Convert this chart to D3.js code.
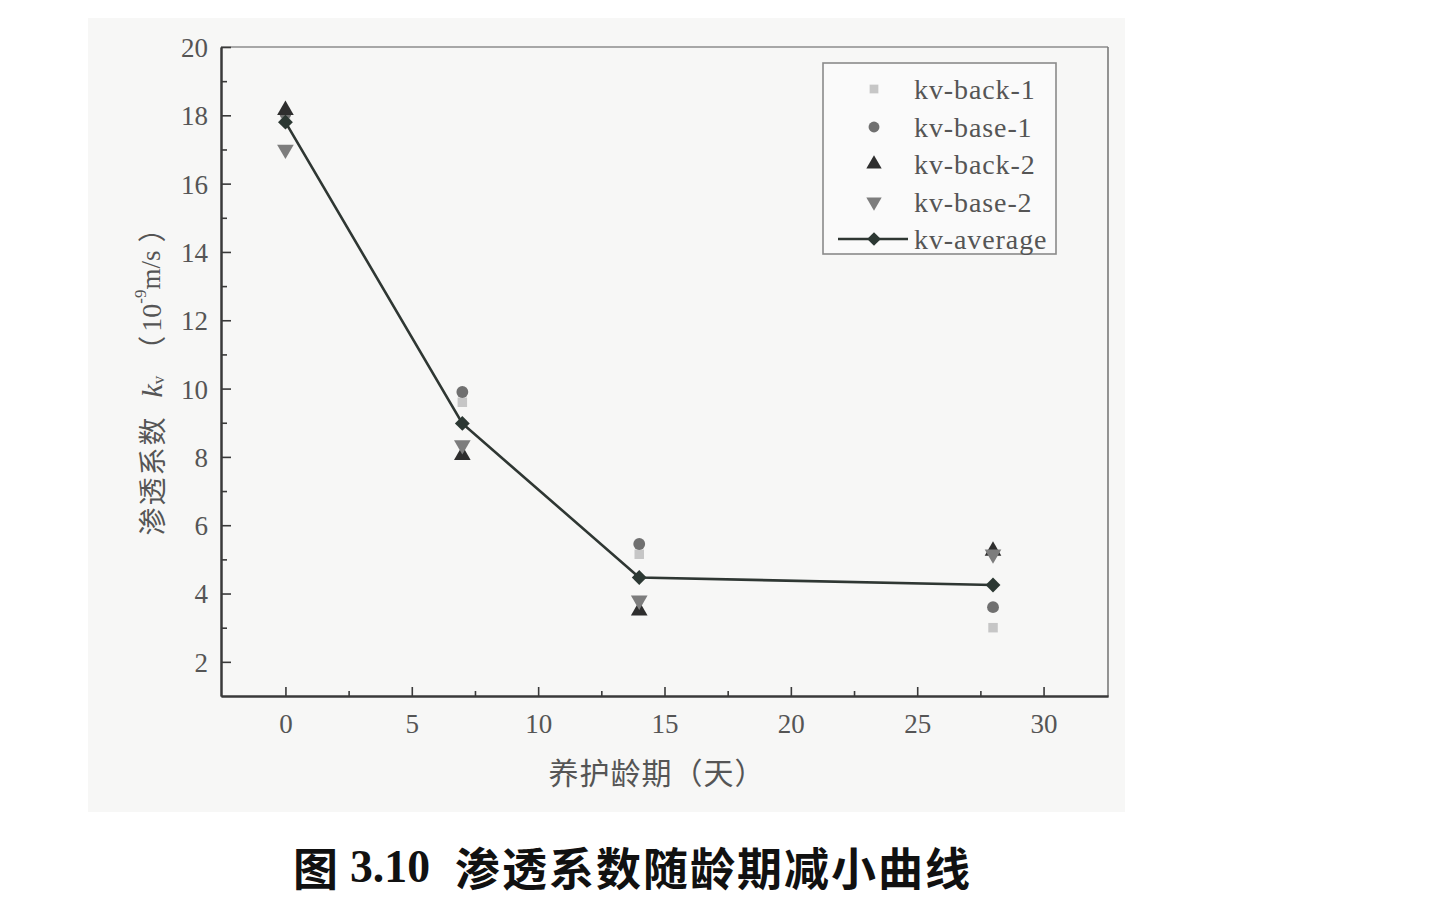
<!DOCTYPE html>
<html><head><meta charset="utf-8">
<script src="https://cdn.jsdelivr.net/npm/d3@7"></script>
<style>
html,body{margin:0;padding:0;background:#fff;}
svg{display:block;}
</style></head>
<body>
<svg id="chart" width="1443" height="909"></svg>
<script>
// ---- data ----
const ages = [0, 7, 14, 28];
const kvBack1 = [18.0, 9.6, 5.15, 3.0];
const kvBase1 = [18.05, 9.9, 5.45, 3.6];
const kvBack2 = [18.15, 8.05, 3.5, 5.25];
const kvBase2 = [17.0, 8.35, 3.8, 5.15];
const kvAverage = [17.8, 8.98, 4.47, 4.25];
const seriesNames = ["kv-back-1", "kv-base-1", "kv-back-2", "kv-base-2", "kv-average"];
const xTicks = [0, 5, 10, 15, 20, 25, 30];
const xMinorTicks = [2.5, 7.5, 12.5, 17.5, 22.5, 27.5];
const yTicks = [2, 4, 6, 8, 10, 12, 14, 16, 18, 20];
const yMinorTicks = [3, 5, 7, 9, 11, 13, 15, 17, 19];
const xTitle = "养护龄期（天）";
const captionLabel = "图";
const captionNumber = "3.10";
const captionText = "渗透系数随龄期减小曲线";

const svg = d3.select("#chart");
const m = {left: 221, top: 47, right: 1108, bottom: 696};

// scanned page background
svg.append("rect").attr("x", 88).attr("y", 18).attr("width", 1037).attr("height", 794).attr("fill", "#f7f7f6");

const x = d3.scaleLinear().domain([-2.55, 32.55]).range([m.left, m.right]);
const y = d3.scaleLinear().domain([1, 20]).range([m.bottom, m.top]);

const axisColor = "#3a3a3a";
const serif = "'Liberation Serif', 'DejaVu Serif', serif";
const cjk = "'Noto Sans CJK SC', sans-serif";

// frame (top & right lighter)
svg.append("line").attr("x1", m.left).attr("x2", m.right).attr("y1", m.top).attr("y2", m.top)
  .attr("stroke", "#8c8c8c").attr("stroke-width", 1.6);
svg.append("line").attr("x1", m.right).attr("x2", m.right).attr("y1", m.top).attr("y2", m.bottom)
  .attr("stroke", "#7a7a7a").attr("stroke-width", 1.6);

// axes
const gx = svg.append("g").attr("transform", `translate(0,${m.bottom})`)
  .call(d3.axisBottom(x).tickValues(xTicks).tickSizeInner(-9).tickSizeOuter(0).tickPadding(18).tickFormat(d3.format("d")));
const gxm = svg.append("g").attr("transform", `translate(0,${m.bottom})`)
  .call(d3.axisBottom(x).tickValues(xMinorTicks).tickSizeInner(-5).tickSizeOuter(0).tickFormat(""));
const gy = svg.append("g").attr("transform", `translate(${m.left},0)`)
  .call(d3.axisLeft(y).tickValues(yTicks).tickSizeInner(-10).tickSizeOuter(0).tickPadding(13).tickFormat(d3.format("d")));
const gym = svg.append("g").attr("transform", `translate(${m.left},0)`)
  .call(d3.axisLeft(y).tickValues(yMinorTicks).tickSizeInner(-6).tickSizeOuter(0).tickFormat(""));

[gx, gxm, gy, gym].forEach(g => {
  g.select(".domain").attr("stroke", axisColor).attr("stroke-width", 2);
  g.selectAll(".tick line").attr("stroke", axisColor).attr("stroke-width", 1.6);
  g.selectAll(".tick text").attr("fill", "#555").attr("font-family", serif).attr("font-size", 27);
});
gx.selectAll(".tick text").attr("dy", "0.71em");
gy.selectAll(".tick text").attr("dy", "0.35em");

// axis titles
svg.append("text").attr("x", 657).attr("y", 771).attr("text-anchor", "middle").attr("dominant-baseline", "central")
  .attr("font-family", cjk).attr("font-size", 30).attr("fill", "#555")
  .attr("letter-spacing", 1).text(xTitle);

const yt = svg.append("text").attr("transform", "translate(151,375) rotate(-90)")
  .attr("text-anchor", "middle").attr("dominant-baseline", "central")
  .attr("fill", "#555").attr("font-size", 28);
yt.append("tspan").attr("font-family", cjk).attr("letter-spacing", 2).text("渗透系数");
yt.append("tspan").attr("font-family", serif).attr("font-style", "italic").attr("font-size", 30).attr("dx", 18).text("k");
yt.append("tspan").attr("font-family", serif).attr("font-size", 17).attr("dy", 7).text("v");
yt.append("tspan").attr("font-family", cjk).attr("dy", -7).attr("dx", 12).text("（");
yt.append("tspan").attr("font-family", serif).attr("font-size", 28).attr("dx", 4).text("10");
yt.append("tspan").attr("font-family", serif).attr("font-size", 17).attr("dy", -11).text("-9");
yt.append("tspan").attr("font-family", serif).attr("font-size", 27).attr("dy", 11).text("m/s");
yt.append("tspan").attr("font-family", cjk).attr("dx", 8).text("）");

// series styles
const styles = [
  {name: seriesNames[0], vals: kvBack1, type: d3.symbolSquare, size: 90, rot: 0, color: "#c6c6c6"},
  {name: seriesNames[1], vals: kvBase1, type: d3.symbolCircle, size: 110, rot: 0, color: "#707070"},
  {name: seriesNames[2], vals: kvBack2, type: d3.symbolTriangle, size: 120, rot: 0, color: "#2e2e2e"},
  {name: seriesNames[3], vals: kvBase2, type: d3.symbolTriangle, size: 120, rot: 180, color: "#7d7d7d"},
];
const avgStyle = {name: seriesNames[4], vals: kvAverage, type: d3.symbolSquare, size: 110, rot: 45, color: "#2c3833"};

styles.forEach(s => {
  svg.append("g").selectAll("path").data(ages.map((a, i) => [a, s.vals[i]])).join("path")
    .attr("d", d3.symbol().type(s.type).size(s.size))
    .attr("transform", d => `translate(${x(d[0])},${y(d[1])}) rotate(${s.rot})`)
    .attr("fill", s.color);
});

// average line
const pts = ages.map((a, i) => [a, kvAverage[i]]);
svg.append("path").datum(pts)
  .attr("d", d3.line().x(d => x(d[0])).y(d => y(d[1])))
  .attr("fill", "none").attr("stroke", "#2f3733").attr("stroke-width", 2.6);
svg.append("g").selectAll("path").data(pts).join("path")
  .attr("d", d3.symbol().type(avgStyle.type).size(avgStyle.size))
  .attr("transform", d => `translate(${x(d[0])},${y(d[1])}) rotate(45)`)
  .attr("fill", avgStyle.color);

// legend
const lg = svg.append("g");
lg.append("rect").attr("x", 823).attr("y", 63).attr("width", 233).attr("height", 191)
  .attr("fill", "#fafafa").attr("stroke", "#8a8a8a").attr("stroke-width", 1.6);
const rowY = [89, 127, 164, 202, 239];
styles.concat([avgStyle]).forEach((s, i) => {
  const cy = rowY[i];
  if (i === 4) {
    lg.append("line").attr("x1", 838).attr("x2", 908).attr("y1", cy).attr("y2", cy)
      .attr("stroke", "#2f3733").attr("stroke-width", 2.6);
  }
  lg.append("path").attr("d", d3.symbol().type(s.type).size(s.size * 0.85))
    .attr("transform", `translate(874,${cy}) rotate(${s.rot})`).attr("fill", s.color);
  lg.append("text").attr("x", 914).attr("y", cy).attr("dominant-baseline", "central")
    .attr("font-family", serif).attr("font-size", 28).attr("letter-spacing", 0.9)
    .attr("fill", "#555").text(s.name);
});

// caption
const cap = svg.append("g").attr("fill", "#111").attr("font-weight", "bold");
cap.append("text").attr("x", 293).attr("y", 866).attr("dominant-baseline", "central")
  .attr("font-family", cjk).attr("font-size", 45).text(captionLabel);
cap.append("text").attr("x", 350).attr("y", 866).attr("dominant-baseline", "central")
  .attr("font-family", serif).attr("font-size", 46).attr("textLength", 80).attr("lengthAdjust", "spacingAndGlyphs")
  .text(captionNumber);
cap.append("text").attr("x", 455).attr("y", 866).attr("dominant-baseline", "central")
  .attr("font-family", cjk).attr("font-size", 45).attr("textLength", 515).attr("lengthAdjust", "spacing")
  .text(captionText);
</script>
</body></html>
